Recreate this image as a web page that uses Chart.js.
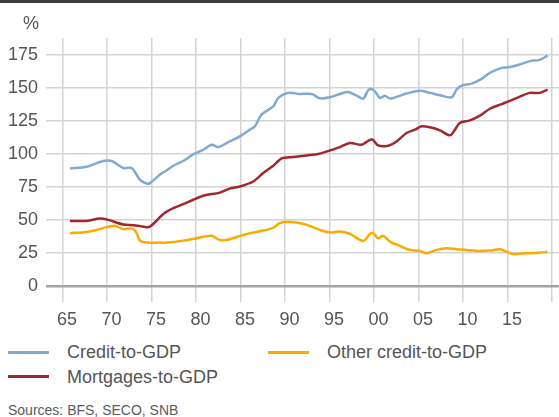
<!DOCTYPE html>
<html>
<head>
<meta charset="utf-8">
<script src="https://cdn.jsdelivr.net/npm/chart.js@4"></script>
<style>
    body { margin: 0; background: #fff; }
    #wrap { position: relative; width: 559px; height: 417px; overflow: hidden; font-family: "Liberation Sans", Arial, sans-serif; color: #555; }
    #topbar { position: absolute; left: 0; top: 0; width: 559px; height: 3px; background: #3c3c3c; }
    #unit { position: absolute; left: 23px; top: 14px; font-size: 18px; line-height: 1; }
    #chart-box { position: absolute; left: 0; top: 0; width: 559px; height: 340px; }
    .leg-line { position: absolute; width: 41px; height: 3px; }
    .leg-text { position: absolute; font-size: 18px; line-height: 1; white-space: nowrap; }
    #sources { position: absolute; left: 8px; top: 403px; font-size: 14px; line-height: 1; color: #5c5c5c; }
</style>
</head>
<body>
<div id="wrap">
    <div id="chart-box"><canvas id="creditChart" width="559" height="340"></canvas></div>
    <div id="topbar"></div>
    <div id="unit">%</div>

    <div class="leg-line" style="left:8px; top:351px; background:#80aad2;"></div>
    <div class="leg-text" style="left:67px; top:343px;">Credit-to-GDP</div>
    <div class="leg-line" style="left:268px; top:351px; background:#fbab00;"></div>
    <div class="leg-text" style="left:327px; top:343px;">Other credit-to-GDP</div>
    <div class="leg-line" style="left:8px; top:375px; background:#a2272e;"></div>
    <div class="leg-text" style="left:67px; top:368px;">Mortgages-to-GDP</div>

    <div id="sources">Sources: BFS, SECO, SNB</div>
</div>

<script>
// values (year as decimal, % of GDP)
const creditYears = [1965.84, 1967.72, 1969.58, 1970.53, 1971.83, 1972.78, 1973.71, 1974.46, 1974.83, 1976.0,
    1976.6, 1977.45, 1978.57, 1979.7, 1980.82, 1981.76, 1982.5, 1983.45, 1984.94, 1986.06,
    1986.63, 1987.36, 1988.69, 1989.25, 1990.37, 1991.69, 1993.0, 1993.93, 1995.06, 1996.18,
    1997.11, 1998.06, 1998.8, 1999.36, 1999.74, 2000.11, 2000.67, 2001.24, 2001.8, 2002.73,
    2003.67, 2005.17, 2006.29, 2007.42, 2008.73, 2009.29, 2009.85, 2010.98, 2012.1, 2013.03,
    2014.35, 2015.28, 2016.4, 2017.53, 2018.65, 2019.52];
const creditValues = [88.9, 90.2, 94.5, 94.5, 89.2, 89.2, 80.3, 77.5, 77.8, 84.5,
    87, 90.9, 94.5, 99.5, 103, 106.8, 105, 108.1, 113.1, 118.2,
    120.7, 129.5, 135.8, 142.2, 146, 145.2, 145.2, 141.9, 142.7, 145.2,
    146.7, 143.9, 141.7, 148, 149, 147.2, 142.2, 143.9, 141.7, 143.4,
    145.5, 147.7, 146, 144.2, 142.7, 148.5, 151.5, 153, 156.6, 161.1,
    164.9, 165.5, 167.5, 170, 171, 174.2];

const mortgageYears = [1965.84, 1967.72, 1969.21, 1970.15, 1971.83, 1972.96, 1974.46, 1974.83, 1975.6, 1976.33,
    1977.45, 1978.57, 1979.7, 1980.82, 1981.76, 1982.5, 1983.82, 1984.94, 1986.44, 1987.56,
    1988.69, 1989.63, 1990.93, 1992.44, 1993.74, 1995.06, 1996.18, 1997.3, 1998.62, 1999.36,
    1999.85, 2000.48, 2001.6, 2002.55, 2003.67, 2004.61, 2005.36, 2006.29, 2007.42, 2008.54,
    2009.1, 2009.66, 2010.79, 2011.91, 2013.03, 2014.35, 2015.28, 2016.4, 2017.53, 2018.65,
    2019.52];
const mortgageValues = [49.2, 49.2, 51, 50, 46.5, 46, 44.5, 44.9, 49.5, 54.5,
    58.8, 61.9, 65.2, 68.2, 69.5, 70.2, 73.7, 75.2, 79, 85.4,
    90.9, 96.5, 97.5, 98.7, 99.8, 102.5, 105, 108.1, 106.8, 109.8,
    110.6, 106.3, 106.1, 109.3, 115.7, 118.2, 120.7, 120, 117.7, 113.9,
    118.2, 123.3, 125.2, 128.8, 134, 137.5, 140, 143.2, 146, 146,
    148.5];

const otherYears = [1965.84, 1967.72, 1968.84, 1969.97, 1970.9, 1971.83, 1972.78, 1973.26, 1973.71, 1974.46,
    1975.96, 1976.71, 1978.57, 1980.08, 1981.76, 1982.7, 1983.82, 1984.94, 1986.06, 1987.56,
    1988.69, 1989.44, 1990.37, 1991.88, 1993.0, 1993.93, 1995.06, 1996.18, 1997.3, 1998.8,
    1999.55, 1999.92, 2000.48, 2001.04, 2001.8, 2002.92, 2004.04, 2005.17, 2005.92, 2007.04,
    2008.17, 2009.29, 2010.42, 2011.72, 2013.03, 2014.16, 2014.91, 2015.65, 2016.78, 2017.9,
    2018.65, 2019.52];
const otherValues = [39.9, 40.9, 42.4, 44.5, 45.5, 43, 43.4, 41, 34.3, 32.8,
    32.8, 32.8, 34.3, 36.1, 37.9, 34.8, 35.4, 37.9, 39.9, 41.9,
    44.2, 47.5, 48.5, 47.2, 44.9, 42.4, 40.4, 41.2, 39.4, 34.1,
    39.4, 39.9, 36.1, 37.9, 33.6, 30.3, 27.3, 26.5, 24.8, 27.3,
    28.5, 27.8, 27.3, 26.5, 26.8, 27.8, 26, 24, 24.8, 24.8,
    25.2, 25.8];

const xTickYears = [1965, 1970, 1975, 1980, 1985, 1990, 1995, 2000, 2005, 2010, 2015, 2020];
const yTickValues = [0, 25, 50, 75, 100, 125, 150, 175];

function toPoints(years, values) {
    return years.map((yr, i) => ({ x: yr, y: values[i] }));
}

function lineSet(label, years, values, color) {
    return {
        label: label,
        data: toPoints(years, values),
        borderColor: color,
        backgroundColor: color,
        borderWidth: 2.5,
        pointRadius: 0,
        tension: 0.3,
        fill: false
    };
}

const tickFont = { family: "'Liberation Sans', Arial, sans-serif", size: 18 };

new Chart(document.getElementById("creditChart"), {
    type: "line",
    data: {
        datasets: [
            lineSet("Credit-to-GDP", creditYears, creditValues, "#80aad2"),
            lineSet("Mortgages-to-GDP", mortgageYears, mortgageValues, "#a2272e"),
            lineSet("Other credit-to-GDP", otherYears, otherValues, "#fbab00")
        ]
    },
    options: {
        responsive: false,
        animation: false,
        layout: { padding: { top: 38, left: 0, right: 0, bottom: 0 } },
        plugins: {
            legend: { display: false },
            tooltip: { enabled: false }
        },
        scales: {
            x: {
                type: "linear",
                min: 1963.15,
                max: 2020.8,
                afterBuildTicks: axis => {
                    axis.ticks = xTickYears.map(v => ({ value: v }));
                },
                afterFit: scale => { scale.height = 54; },
                border: { display: false },
                grid: {
                    color: "#d4d4d4",
                    lineWidth: 1.5,
                    drawTicks: true,
                    tickLength: 16,
                    tickColor: "#d4d4d4"
                },
                ticks: {
                    autoSkip: false,
                    maxRotation: 0,
                    padding: 7,
                    labelOffset: 4.5,
                    color: "#555",
                    font: tickFont,
                    callback: v => (v >= 2020 ? "" : String(v).slice(2))
                }
            },
            y: {
                min: 0,
                max: 187.5,
                afterBuildTicks: axis => {
                    axis.ticks = yTickValues.map(v => ({ value: v }));
                },
                afterFit: scale => { scale.width = 46; },
                border: { display: false },
                grid: {
                    drawTicks: false,
                    color: ctx => (ctx.tick && ctx.tick.value === 0 ? "#a3a3a3" : "#d4d4d4"),
                    lineWidth: ctx => (ctx.tick && ctx.tick.value === 0 ? 2.5 : 1.5)
                },
                ticks: {
                    padding: 8,
                    color: "#555",
                    font: tickFont
                }
            }
        }
    }
});
</script>
</body>
</html>
